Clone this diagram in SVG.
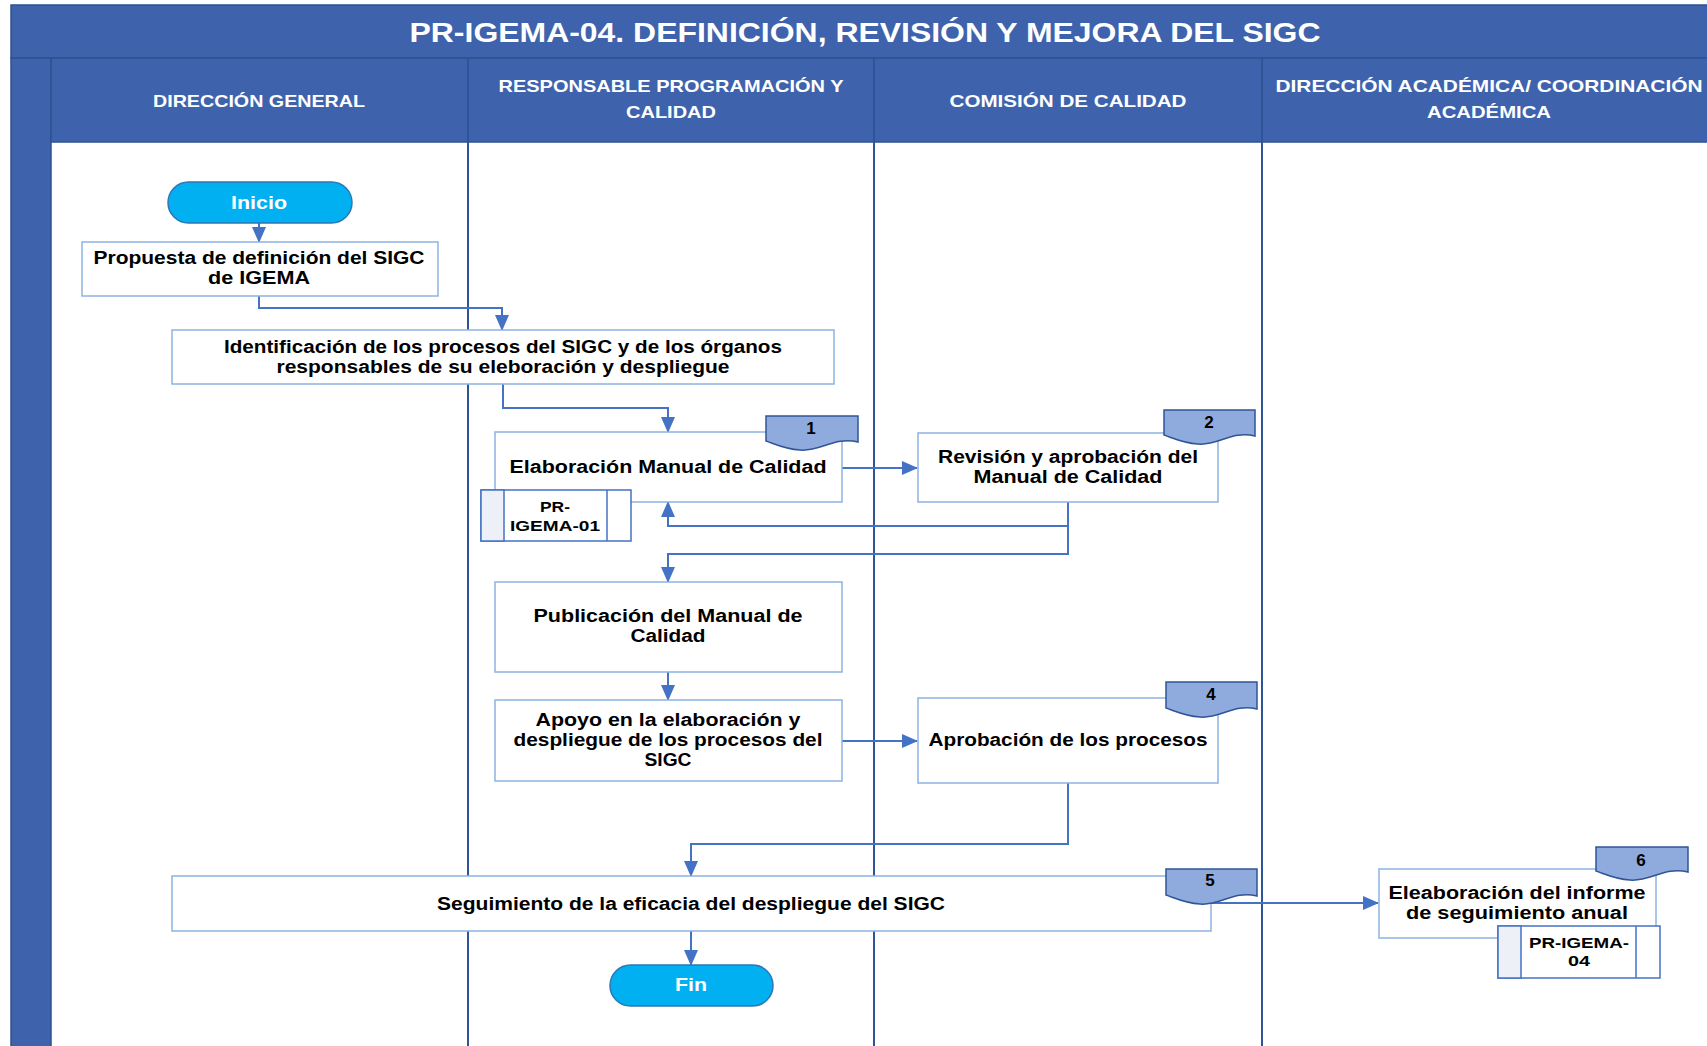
<svg xmlns="http://www.w3.org/2000/svg" width="1707" height="1046" viewBox="0 0 1707 1046">
<defs>
<marker id="ahb" markerWidth="16" markerHeight="14" refX="15" refY="7" orient="auto" markerUnits="userSpaceOnUse" viewBox="0 0 16 14">
<path d="M0,0 L16,7 L0,14 Z" fill="#4472C4"/>
</marker>
</defs>
<style>
text{lengthAdjust:spacingAndGlyphs}
.hdr{fill:#3E63AC;stroke:#2F528F;stroke-width:1.5}
.ht{font-family:"Liberation Sans",Arial,sans-serif;font-weight:bold;fill:#FFFFFF;font-size:16.5px;text-anchor:middle}
.tt{font-family:"Liberation Sans",Arial,sans-serif;font-weight:bold;fill:#FFFFFF;font-size:27px;text-anchor:middle}
.div{stroke:#2F5597;stroke-width:2}
.box{fill:#FFFFFF;stroke:#8DB3E2;stroke-width:1.5}
.bt{font-family:"Liberation Sans",Arial,sans-serif;font-weight:bold;fill:#000000;font-size:17.5px;text-anchor:middle}
.term{fill:#00B0F0;stroke:#2E75B6;stroke-width:1.5}
.termt{font-family:"Liberation Sans",Arial,sans-serif;font-weight:bold;fill:#FFFFFF;font-size:18px;text-anchor:middle}
.tag{fill:#8FAADC;stroke:#2F5597;stroke-width:1.5}
.tagt{font-family:"Liberation Sans",Arial,sans-serif;font-weight:bold;fill:#000000;font-size:17px;text-anchor:middle}
.sub{fill:#FFFFFF;stroke:#4472C4;stroke-width:1.5}
.subl{fill:#EEF0F8;stroke:#4472C4;stroke-width:1.5}
.st{font-family:"Liberation Sans",Arial,sans-serif;font-weight:bold;fill:#000000;font-size:15px;text-anchor:middle}
.con{fill:none;stroke:#4472C4;stroke-width:2;marker-end:url(#ahb)}
</style>
<rect width="1707" height="1046" fill="#FFFFFF"/>
<g id="swimlanes">
<rect class="hdr" x="11" y="5" width="1700" height="53"/>
<rect class="hdr" x="11" y="58" width="40" height="992"/>
<rect class="hdr" x="51" y="58" width="1660" height="84"/>
<line class="div" x1="468" y1="58" x2="468" y2="1046"/>
<line class="div" x1="874" y1="58" x2="874" y2="1046"/>
<line class="div" x1="1262" y1="58" x2="1262" y2="1046"/>
<text class="tt" x="865" y="42" textLength="911" lengthAdjust="spacingAndGlyphs">PR-IGEMA-04. DEFINICIÓN, REVISIÓN Y MEJORA DEL SIGC</text>
<text class="ht" x="259" y="107" textLength="212" lengthAdjust="spacingAndGlyphs">DIRECCIÓN GENERAL</text>
<text class="ht" x="671" y="92" textLength="345" lengthAdjust="spacingAndGlyphs">RESPONSABLE PROGRAMACIÓN Y</text>
<text class="ht" x="671" y="118" textLength="90" lengthAdjust="spacingAndGlyphs">CALIDAD</text>
<text class="ht" x="1068" y="107" textLength="237" lengthAdjust="spacingAndGlyphs">COMISIÓN DE CALIDAD</text>
<text class="ht" x="1489" y="92" textLength="427" lengthAdjust="spacingAndGlyphs">DIRECCIÓN ACADÉMICA/ COORDINACIÓN</text>
<text class="ht" x="1489" y="118" textLength="124" lengthAdjust="spacingAndGlyphs">ACADÉMICA</text>
</g>
<g id="connectors">
<path class="con" d="M259,223 V242"/>
<path class="con" d="M259,296 V308 H502 V330"/>
<path class="con" d="M503,384 V408 H668 V432"/>
<path class="con" d="M842,468 H917"/>
<path class="con" d="M1068,502 V526 H668 V502"/>
<path class="con" d="M1068,526 V554 H668 V582"/>
<path class="con" d="M668,672 V700"/>
<path class="con" d="M842,741 H917"/>
<path class="con" d="M1068,783 V844 H691 V876"/>
<path class="con" d="M1211,903 H1378"/>
<path class="con" d="M691,931 V965"/>
</g>
<g id="inicio">
<rect class="term" x="168" y="182" width="184" height="41" rx="20.5"/>
<text class="termt" x="259" y="209" textLength="56" lengthAdjust="spacingAndGlyphs">Inicio</text>
</g>
<g id="propuesta">
<rect class="box" x="82" y="242" width="356" height="54"/>
<text class="bt" x="259" y="264" textLength="331" lengthAdjust="spacingAndGlyphs">Propuesta de definición del SIGC</text>
<text class="bt" x="259" y="284" textLength="102" lengthAdjust="spacingAndGlyphs">de IGEMA</text>
</g>
<g id="identificacion">
<rect class="box" x="172" y="330" width="662" height="54"/>
<text class="bt" x="503" y="353" textLength="558" lengthAdjust="spacingAndGlyphs">Identificación de los procesos del SIGC y de los órganos</text>
<text class="bt" x="503" y="373" textLength="453" lengthAdjust="spacingAndGlyphs">responsables de su eleboración y despliegue</text>
</g>
<g id="elaboracion">
<rect class="box" x="495" y="432" width="347" height="70"/>
<text class="bt" x="668" y="473" textLength="317" lengthAdjust="spacingAndGlyphs">Elaboración Manual de Calidad</text>
</g>
<g id="tag1">
<path class="tag" d="M766,416 H858 V442 C835,436 820,452 800,450 C785,449 775,444 766,441 Z"/>
<text class="tagt" x="811" y="434">1</text>
</g>
<g id="pr-igema-01">
<rect class="sub" x="481" y="490" width="150" height="51"/>
<rect class="subl" x="481" y="490" width="23" height="51"/>
<line x1="607" y1="490" x2="607" y2="541" stroke="#4472C4" stroke-width="1.5"/>
<text class="st" x="555" y="512" textLength="30" lengthAdjust="spacingAndGlyphs">PR-</text>
<text class="st" x="555" y="531" textLength="90" lengthAdjust="spacingAndGlyphs">IGEMA-01</text>
</g>
<g id="revision">
<rect class="box" x="918" y="433" width="300" height="69"/>
<text class="bt" x="1068" y="463" textLength="260" lengthAdjust="spacingAndGlyphs">Revisión y aprobación del</text>
<text class="bt" x="1068" y="483" textLength="189" lengthAdjust="spacingAndGlyphs">Manual de Calidad</text>
</g>
<g id="tag2">
<path class="tag" d="M1164,410 H1255 V436 C1232,430 1218,446 1198,444 C1183,443 1173,438 1164,435 Z"/>
<text class="tagt" x="1209" y="428">2</text>
</g>
<g id="publicacion">
<rect class="box" x="495" y="582" width="347" height="90"/>
<text class="bt" x="668" y="622" textLength="269" lengthAdjust="spacingAndGlyphs">Publicación del Manual de</text>
<text class="bt" x="668" y="642" textLength="75" lengthAdjust="spacingAndGlyphs">Calidad</text>
</g>
<g id="apoyo">
<rect class="box" x="495" y="700" width="347" height="81"/>
<text class="bt" x="668" y="726" textLength="265" lengthAdjust="spacingAndGlyphs">Apoyo en la elaboración y</text>
<text class="bt" x="668" y="746" textLength="309" lengthAdjust="spacingAndGlyphs">despliegue de los procesos del</text>
<text class="bt" x="668" y="766" textLength="47" lengthAdjust="spacingAndGlyphs">SIGC</text>
</g>
<g id="aprobacion">
<rect class="box" x="918" y="698" width="300" height="85"/>
<text class="bt" x="1068" y="746" textLength="279" lengthAdjust="spacingAndGlyphs">Aprobación de los procesos</text>
</g>
<g id="tag4">
<path class="tag" d="M1166,682 H1257 V709 C1234,703 1220,719 1200,717 C1185,716 1175,711 1166,708 Z"/>
<text class="tagt" x="1211" y="700">4</text>
</g>
<g id="seguimiento">
<rect class="box" x="172" y="876" width="1039" height="55"/>
<text class="bt" x="691" y="910" textLength="508" lengthAdjust="spacingAndGlyphs">Seguimiento de la eficacia del despliegue del SIGC</text>
</g>
<g id="tag5">
<path class="tag" d="M1166,869 H1257 V896 C1234,890 1220,906 1200,904 C1185,903 1175,898 1166,895 Z"/>
<text class="tagt" x="1210" y="886">5</text>
</g>
<g id="fin">
<rect class="term" x="610" y="965" width="163" height="41" rx="20.5"/>
<text class="termt" x="691" y="991" textLength="32" lengthAdjust="spacingAndGlyphs">Fin</text>
</g>
<g id="informe">
<rect class="box" x="1379" y="869" width="277" height="69"/>
<text class="bt" x="1517" y="899" textLength="257" lengthAdjust="spacingAndGlyphs">Eleaboración del informe</text>
<text class="bt" x="1517" y="919" textLength="222" lengthAdjust="spacingAndGlyphs">de seguimiento anual</text>
</g>
<g id="tag6">
<path class="tag" d="M1596,847 H1688 V872 C1665,866 1650,882 1630,880 C1615,879 1605,874 1596,871 Z"/>
<text class="tagt" x="1641" y="866">6</text>
</g>
<g id="pr-igema-04">
<rect class="sub" x="1498" y="926" width="162" height="52"/>
<rect class="subl" x="1498" y="926" width="23" height="52"/>
<line x1="1636" y1="926" x2="1636" y2="978" stroke="#4472C4" stroke-width="1.5"/>
<text class="st" x="1579" y="948" textLength="100" lengthAdjust="spacingAndGlyphs">PR-IGEMA-</text>
<text class="st" x="1579" y="966" textLength="22" lengthAdjust="spacingAndGlyphs">04</text>
</g>
</svg>
